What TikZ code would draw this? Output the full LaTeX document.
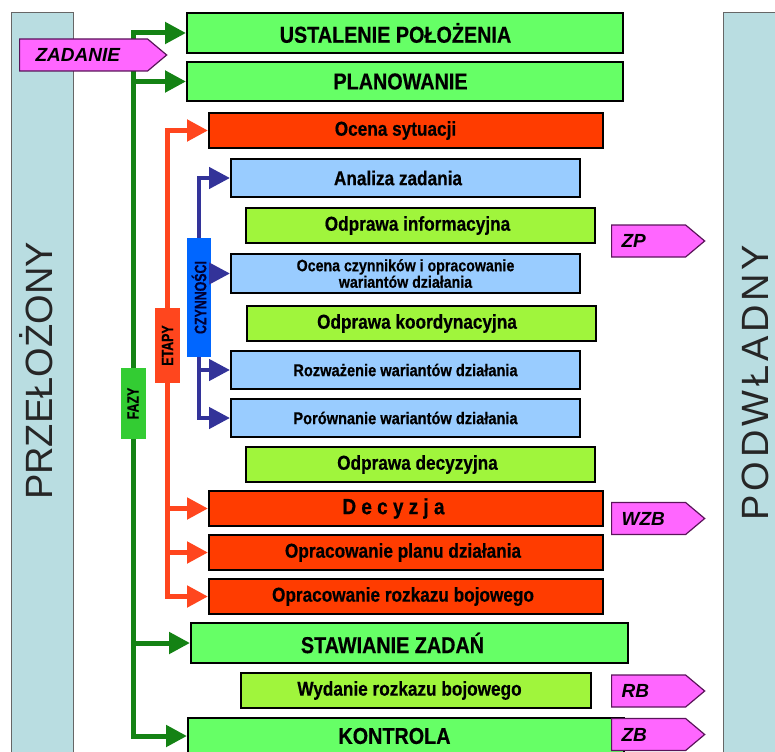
\documentclass[tikz,border=0pt]{standalone}
\usepackage{fontspec}
\setmainfont{Liberation Sans}
\newfontfamily\condfont[FakeStretch=0.86, BoldFeatures={FakeBold=0.5}]{Liberation Sans}
\newfontfamily\narrowfont[FakeStretch=0.75, BoldFeatures={FakeBold=0.4}]{Liberation Sans}
\newfontfamily\widefont[LetterSpace=10]{Liberation Sans}
\usetikzlibrary{arrows.meta,shapes.symbols}

\definecolor{panelbg}{RGB}{185,221,225}
\definecolor{phasegreen}{RGB}{102,255,102}
\definecolor{stagered}{RGB}{255,60,0}
\definecolor{actblue}{RGB}{153,204,255}
\definecolor{brieflime}{RGB}{160,245,60}
\definecolor{tagpink}{RGB}{255,102,255}
\definecolor{tagedge}{RGB}{90,20,90}
\definecolor{fazygreen}{RGB}{51,204,51}
\definecolor{linegreen}{RGB}{20,130,20}
\definecolor{linered}{RGB}{255,70,30}
\definecolor{lineblue}{RGB}{51,51,153}
\definecolor{czynblue}{RGB}{0,102,255}

\begin{document}
\begin{tikzpicture}[x=1pt, y=-1pt,
    panel/.style={draw=black!60, line width=0.8pt, fill=panelbg, anchor=north west,
      minimum height=760pt, inner sep=0pt},
    sidelab/.style={rotate=90, anchor=base, text=black!85, font=\fontsize{38}{40}\selectfont},
    box/.style={draw=black, line width=2pt, anchor=north west, inner sep=0pt, text=black,
      font=\condfont\bfseries\fontsize{20}{22}\selectfont},
    nudge/.style={execute at end node={\hspace{#1}}},
    phase/.style={box, fill=phasegreen, minimum width=436pt, minimum height=40pt,
      font=\condfont\bfseries\fontsize{23}{25}\selectfont},
    stage/.style={box, fill=stagered, minimum width=394pt, minimum height=35pt},
    act/.style={box, fill=actblue, minimum width=349pt, minimum height=38pt},
    brief/.style={box, fill=brieflime, minimum width=349pt, minimum height=35pt},
    grouplab/.style={rotate=90, minimum height=25pt, inner sep=0pt, text=black,
      font=\narrowfont\bfseries\fontsize{16.5}{18}\selectfont},
    tag/.style={shape=signal, signal to=east, signal pointer angle=80, fill=tagpink,
      draw=tagedge, line width=1.2pt, minimum height=32pt, inner ysep=0pt,
      inner xsep=10pt, text width=54pt, align=left, anchor=west, text=black,
      font=\bfseries\itshape\fontsize{19}{21}\selectfont},
    tip/.style={-{Triangle[length=21pt, width=21pt]}},
    garrow/.style={draw=linegreen, line width=5pt, tip},
    rarrow/.style={draw=linered, line width=5pt, tip},
    barrow/.style={draw=lineblue, line width=4.5pt, tip}]

  \useasboundingbox (0,0) rectangle (775,751);
  \clip (0,0) rectangle (775,751);

  % side panels
  \node [panel, minimum width=62pt] (boss-panel) at (11,12) {};
  \node [panel, minimum width=70pt] (sub-panel) at (723,12) {};
  \node [sidelab] (boss) at (52,371) {PRZEŁOŻONY};
  \node [sidelab, font=\widefont\fontsize{38}{40}\selectfont] (sub) at (768,382.5) {PODWŁADNY};

  % phases
  \node [phase, nudge=19pt] (ustal) at (186,12) {USTALENIE POŁOŻENIA};
  \node [phase, nudge=9pt, minimum height=39pt] (plan) at (186,61) {PLANOWANIE};
  \node [phase, nudge=34pt, minimum width=437pt] (staw) at (190,622) {STAWIANIE ZADAŃ};
  \node [phase, nudge=23pt, minimum height=36pt] (kontr) at (187,717) {KONTROLA};

  % stages
  \node [stage, nudge=21pt] (ocena) at (208,112) {Ocena sytuacji};
  \node [stage, nudge=25pt, font=\condfont\bfseries\fontsize{22}{24}\selectfont] (decyzja) at (208,490) {D e c y z j a};
  \node [stage, nudge=6pt] (plandz) at (208,534) {Opracowanie planu działania};
  \node [stage, nudge=6pt] (rozkaz) at (208,578) {Opracowanie rozkazu bojowego};

  % activities
  \node [act, nudge=15pt] (analiza) at (230,158) {Analiza zadania};
  \node [act, minimum height=39pt, align=center,
    font=\condfont\bfseries\fontsize{16.5}{15.5}\selectfont] (czynniki) at (230,253)
    {Ocena czynników i opracowanie\\wariantów działania};
  \node [act, font=\condfont\bfseries\fontsize{17}{19}\selectfont] (rozwaz) at (230,350) {Rozważenie wariantów działania};
  \node [act, font=\condfont\bfseries\fontsize{17}{19}\selectfont] (porown) at (230,398) {Porównanie wariantów działania};

  % briefings
  \node [brief, nudge=6pt] (odpinf) at (245,207) {Odprawa informacyjna};
  \node [brief, nudge=9pt] (odpkoord) at (246,305) {Odprawa koordynacyjna};
  \node [brief, nudge=6pt] (odpdec) at (245,446) {Odprawa decyzyjna};
  \node [brief, nudge=13pt, minimum width=350pt] (wydanie) at (240,672) {Wydanie rozkazu bojowego};

  % group labels on the lines
  \node [grouplab, fill=fazygreen, minimum width=71pt] (fazy) at (133,403.5) {FAZY};
  \node [grouplab, fill=linered, minimum width=75pt] (etapy) at (167.5,345.5) {ETAPY};
  \node [grouplab, fill=czynblue, minimum width=119pt, minimum height=24pt,
    text=black!80!blue] (czyn) at (199,297.5) {CZYNNOŚCI};

  % connectors
  \foreach \b in {ustal,plan}
    \draw [garrow] (fazy.east) |- (\b.west);
  \foreach \b in {staw,kontr}
    \draw [garrow] (fazy.west) |- (\b.west);

  \draw [rarrow] (etapy.east) |- (ocena.west);
  \foreach \b in {decyzja,plandz,rozkaz}
    \draw [rarrow] (etapy.west) |- (\b.west);

  \draw [barrow] (czyn.east) |- (analiza.west);
  \draw [barrow] (czyn.south |- czynniki.west) -- (czynniki.west);
  \foreach \b in {rozwaz,porown}
    \draw [barrow] (czyn.west) |- (\b.west);

  % tags
  \node [tag, inner xsep=16pt, text width=96pt] (zadanie) at (19,55) {ZADANIE};
  \foreach \t/\y in {ZP/241, WZB/518.5, RB/691, ZB/734.5}
    \node [tag] (tag-\t) at (611,\y) {\t};

\end{tikzpicture}
\end{document}
